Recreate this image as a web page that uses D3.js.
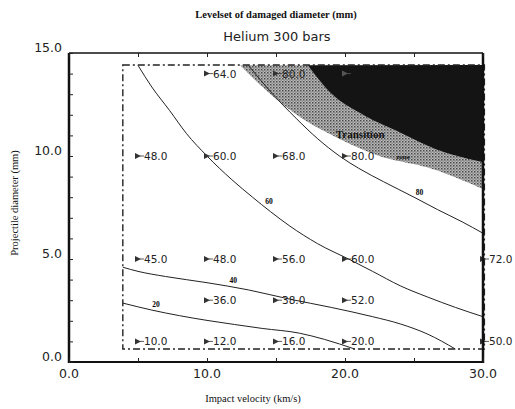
<!DOCTYPE html>
<html lang="en">
<head>
<meta charset="UTF-8">
<title>Levelset of damaged diameter</title>
<style>
  body { margin: 0; background: #fff; }
  svg { display: block; }
  .num { font-family: "DejaVu Sans", sans-serif; fill: #222; }
  .serif { font-family: "Liberation Serif", "Times New Roman", serif; fill: #111; }
</style>
</head>
<body>
<div id="chart"></div>
<script src="https://d3js.org/d3.v7.min.js"></script>
<script>
// axis ticks
const xTickLabels = [0, 10, 20, 30];
const xTickMarks = [0, 5, 10, 15, 20, 25, 30];
const yTickLabels = [0, 5, 10, 15];
const yTickMarks = d3.range(0, 16, 1);

// measured points: [velocity, diameter, damaged diameter]
const markers = [
  [10, 14, "64.0"], [15, 14, "80.0"], [20, 14, ""],
  [5, 10, "48.0"], [10, 10, "60.0"], [15, 10, "68.0"], [20, 10, "80.0"],
  [5, 5, "45.0"], [10, 5, "48.0"], [15, 5, "56.0"], [20, 5, "60.0"], [30, 5, "72.0"],
  [10, 3, "36.0"], [15, 3, "38.0"], [20, 3, "52.0"],
  [5, 1, "10.0"], [10, 1, "12.0"], [15, 1, "16.0"], [20, 1, "20.0"], [30, 1, "50.0"]
];

// levelset contours [velocity, diameter]
const contour20 = [[3.9, 2.86], [6, 2.52], [8, 2.25], [10, 2.02], [12, 1.82], [14, 1.63], [16.7, 1.4], [18.5, 1.1], [20.7, 0.63]];
const contour40 = [[3.9, 4.6], [5, 4.4], [7, 4.15], [10, 3.85], [13, 3.5], [16, 3.05], [19, 2.65], [22, 2.2], [24, 1.85], [26, 1.35], [28, 0.63]];
const contour60 = [[5.0, 14.4], [6, 13.35], [7.3, 12.2], [8.5, 11.1], [10, 10.0], [11.8, 8.85], [13.3, 8.0], [14.6, 7.3], [16, 6.6], [18, 5.75], [20.4, 4.95], [22, 4.4], [24, 3.7], [26, 3.15], [28, 2.65], [30, 2.2]];
const contour80 = [[13.0, 14.4], [14.5, 13.2], [16.5, 11.8], [18, 10.85], [19.6, 10.0], [21, 9.4], [22.8, 8.75], [25, 8.0], [26.7, 7.4], [28.5, 6.8], [30, 6.25]];
const contourLabels = [[6.3, 2.77, "20"], [11.9, 3.93, "40"], [14.5, 7.77, "60"], [25.4, 8.2, "80"]];

// transition band and full damage region edges
const transitionLower = [[12.4, 14.4], [14.1, 13.3], [16.5, 12.0], [19.4, 10.9], [22.5, 10.0], [26.2, 9.4], [30, 8.4]];
const damageEdge = [[17.3, 14.4], [18.9, 13.1], [21.3, 12.0], [23.8, 11.2], [26.7, 10.3], [30, 9.7]];

// computed domain (dash-dot box)
const domainBox = { x0: 3.9, x1: 30.1, y0: 0.63, y1: 14.42 };

const W = 515, H = 409;
const svg = d3.select("#chart").append("svg")
  .attr("width", W).attr("height", H);

const x = d3.scaleLinear().domain([0, 30]).range([69, 483]);
const y = d3.scaleLinear().domain([0, 15]).range([362, 53]);

// stipple pattern for transition zone
const defs = svg.append("defs");
const pat = defs.append("pattern").attr("id", "stipple")
  .attr("width", 3).attr("height", 3).attr("patternUnits", "userSpaceOnUse");
pat.append("rect").attr("width", 3).attr("height", 3).attr("fill", "#bababa");
pat.append("rect").attr("x", 0).attr("y", 0).attr("width", 1.5).attr("height", 1.5).attr("fill", "#4a4a4a");
pat.append("rect").attr("x", 1.5).attr("y", 1.5).attr("width", 1.2).attr("height", 1.2).attr("fill", "#6a6a6a");

const line = d3.line().x(d => x(d[0])).y(d => y(d[1])).curve(d3.curveMonotoneX);
const poly = d3.line().x(d => x(d[0])).y(d => y(d[1])).curve(d3.curveLinear);

// sample a smooth curve so the filled regions follow the same shape
function smooth(pts) {
  const tmp = svg.append("path").attr("d", line(pts)).attr("fill", "none");
  const node = tmp.node(), len = node.getTotalLength(), out = [];
  for (let i = 0; i <= 60; i++) {
    const p = node.getPointAtLength(len * i / 60);
    out.push([x.invert(p.x), y.invert(p.y)]);
  }
  tmp.remove();
  return out;
}
const lowerS = smooth(transitionLower);
const edgeS = smooth(damageEdge);

svg.append("path")
  .attr("d", poly(lowerS.concat(edgeS.slice().reverse())) + "Z")
  .attr("fill", "url(#stipple)");

svg.append("path")
  .attr("d", poly(edgeS.concat([[30, 14.42]])) + "Z")
  .attr("fill", "#141414");

// dash-dot domain box
svg.append("rect")
  .attr("x", x(domainBox.x0)).attr("y", y(domainBox.y1))
  .attr("width", x(domainBox.x1) - x(domainBox.x0))
  .attr("height", y(domainBox.y0) - y(domainBox.y1))
  .attr("fill", "none").attr("stroke", "#222").attr("stroke-width", 1.4)
  .attr("stroke-dasharray", "7,3,2,3");

// contours
[contour20, contour40, contour60, contour80].forEach(c => {
  svg.append("path").attr("d", line(c))
    .attr("fill", "none").attr("stroke", "#222").attr("stroke-width", 1);
});

svg.append("g").attr("opacity", 0.99)
  .selectAll("text").data(contourLabels).enter().append("text")
  .attr("x", d => x(d[0])).attr("y", d => y(d[1]))
  .attr("text-anchor", "middle").attr("dominant-baseline", "middle")
  .attr("font-family", "Liberation Serif, serif")
  .attr("font-size", 7.5).attr("font-weight", "bold").attr("fill", "#000")
  .text(d => d[2]);

// transition zone text
svg.append("text").attr("class", "serif")
  .attr("x", x(21.1)).attr("y", y(11.0))
  .attr("text-anchor", "middle").attr("dominant-baseline", "middle")
  .attr("font-size", 11).attr("font-weight", "bold").attr("fill", "#333")
  .text("Transition");
svg.append("text").attr("class", "serif")
  .attr("x", x(24.2)).attr("y", y(9.95))
  .attr("text-anchor", "middle").attr("dominant-baseline", "middle")
  .attr("font-size", 7).attr("font-weight", "bold").attr("fill", "#222")
  .text("zone");

// markers
const mk = svg.selectAll(".mk").data(markers).enter().append("g")
  .attr("transform", d => `translate(${x(d[0])},${y(d[1])})`);
mk.append("path").attr("d", "M-3,-3L3,0L-3,3Z")
  .attr("fill", d => d[1] === 14 && d[0] === 20 ? "#555" : "#333");
mk.append("line").attr("x1", 2).attr("x2", 6).attr("y1", 0).attr("y2", 0)
  .attr("stroke", d => d[1] === 14 && d[0] === 20 ? "#555" : "#333").attr("stroke-width", 0.8);
mk.append("text").attr("class", "num")
  .attr("x", 6).attr("y", 0).attr("dominant-baseline", "central")
  .attr("font-size", 10.5).attr("fill", "#2a2a2a")
  .text(d => d[2]);

// axes frame
const frame = svg.append("g").attr("stroke", "#111").attr("fill", "none");
frame.append("line").attr("x1", x(0)).attr("x2", x(0)).attr("y1", y(15)).attr("y2", y(0) + 1).attr("stroke-width", 2.5);
frame.append("line").attr("x1", x(30)).attr("x2", x(30)).attr("y1", y(15)).attr("y2", y(0) + 1).attr("stroke-width", 2.5);
frame.append("line").attr("x1", x(0)).attr("x2", x(30)).attr("y1", y(15)).attr("y2", y(15)).attr("stroke-width", 1.6);
frame.append("line").attr("x1", x(0)).attr("x2", x(30)).attr("y1", y(0)).attr("y2", y(0)).attr("stroke-width", 2);

// tick marks via axes (inward)
const yAx = svg.append("g").attr("transform", `translate(${x(0)},0)`)
  .call(d3.axisLeft(y).tickValues(yTickMarks).tickSize(-4).tickFormat(""));
const xAxB = svg.append("g").attr("transform", `translate(0,${y(0)})`)
  .call(d3.axisBottom(x).tickValues(xTickMarks).tickSize(-4).tickFormat(""));
const xAxT = svg.append("g").attr("transform", `translate(0,${y(15)})`)
  .call(d3.axisTop(x).tickValues(xTickMarks).tickSize(-4).tickFormat(""));
[yAx, xAxB, xAxT].forEach(g => {
  g.select(".domain").remove();
  g.selectAll(".tick line").attr("stroke", "#222").attr("stroke-width", 1);
});

// tick labels
svg.selectAll(".xl").data(xTickLabels).enter().append("text")
  .attr("class", "num").attr("font-size", 12.5)
  .attr("x", d => x(d)).attr("y", y(0) + 12)
  .attr("text-anchor", "middle").attr("dominant-baseline", "middle")
  .text(d => d3.format(".1f")(d));
svg.selectAll(".yl").data(yTickLabels).enter().append("text")
  .attr("class", "num").attr("font-size", 12.5)
  .attr("x", x(0) - 7).attr("y", d => y(d) - 5)
  .attr("text-anchor", "end").attr("dominant-baseline", "middle")
  .text(d => d3.format(".1f")(d));

// titles
svg.append("text").attr("class", "serif")
  .attr("x", 276).attr("y", 16).attr("text-anchor", "middle")
  .attr("dominant-baseline", "middle").attr("font-size", 10.5).attr("font-weight", "bold")
  .text("Levelset of damaged diameter (mm)");
svg.append("text").attr("class", "num")
  .attr("x", 277).attr("y", 37).attr("text-anchor", "middle")
  .attr("dominant-baseline", "middle").attr("font-size", 13)
  .text("Helium   300 bars");

svg.append("text").attr("class", "serif")
  .attr("x", 253).attr("y", 400).attr("text-anchor", "middle")
  .attr("dominant-baseline", "middle").attr("font-size", 10.5)
  .text("Impact velocity (km/s)");
svg.append("text").attr("class", "serif")
  .attr("transform", "translate(16,203) rotate(-90)")
  .attr("text-anchor", "middle").attr("dominant-baseline", "middle")
  .attr("font-size", 10.5)
  .text("Projectile diameter (mm)");
</script>
</body>
</html>
